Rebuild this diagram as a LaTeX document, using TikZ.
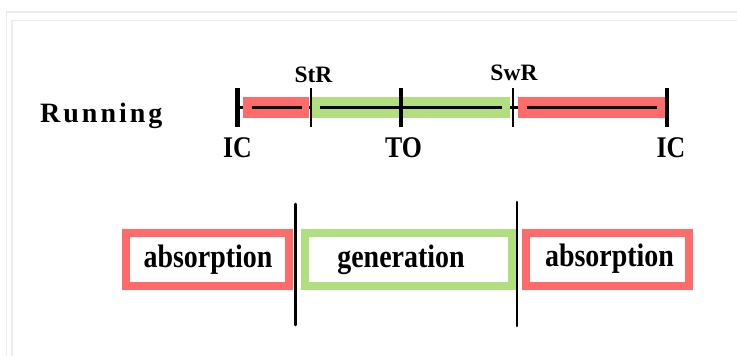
\documentclass[tikz,border=0pt]{standalone}
\usepackage{fontspec}
\setmainfont{Liberation Serif}
\newfontfamily\tallserif{Liberation Serif}[FakeStretch=0.86]
\definecolor{absred}{HTML}{FF6B6B}
\definecolor{gengreen}{HTML}{B1DE7E}
\definecolor{framegray}{HTML}{ECECEC}
\begin{document}
\begin{tikzpicture}[x=1pt,y=-1pt,
  frameline/.style={draw=framegray,line width=1.3pt},
  bar/.style={fill=#1,inner sep=0pt,minimum height=21pt},
  axis/.style={line width=3pt},
  majortick/.style={line width=4.2pt},
  minortick/.style={line width=2.3pt},
  marklabel/.style={font=\tallserif\bfseries\fontsize{30}{32}\selectfont,anchor=base,inner sep=0pt},
  phaselabel/.style={font=\bfseries\fontsize{23.5}{26}\selectfont,anchor=base,inner sep=0pt},
  phasebox/.style={draw=#1,line width=8pt,inner sep=0pt,minimum height=53pt},
  boxtext/.style={font=\tallserif\bfseries\fontsize{32.5}{34}\selectfont,anchor=base,inner sep=0pt},
  divider/.style={line width=2.6pt,line cap=round}]
\useasboundingbox (0,0) rectangle (737,356);

% page frame
\draw[frameline] (6.5,356) -- (6.5,12) -- (737,12);
\draw[frameline] (12,356) -- (12,20.5) -- (737,20.5);

% row title
\node[font=\bfseries\fontsize{28}{30}\selectfont,anchor=base west,inner sep=0pt]
  (running) at (40,122) {R\kern3pt u\kern3pt n\kern3pt n\kern3pt i\kern3pt n\kern3pt g};

% time axis
\coordinate (axisL) at (237.5,107.7);
\coordinate (axisR) at (667,107.7);
\draw[axis] (axisL) -- (axisR);

% coloured phases on the axis
\node[bar=absred,minimum width=66pt] (barA) at (276,107.5) {};
\node[bar=gengreen,minimum width=198pt] (barG) at (411,107.5) {};
\node[bar=absred,minimum width=148pt] (barB) at (592,107.5) {};

% axis segments visible inside the bars
\coordinate (a1) at (252,107.7); \coordinate (a2) at (302,107.7);
\coordinate (g1) at (320,107.7); \coordinate (g2) at (502,107.7);
\coordinate (b1) at (527,107.7); \coordinate (b2) at (657,107.7);
\draw[axis] (a1) -- (a2);
\draw[axis] (g1) -- (g2);
\draw[axis] (b1) -- (b2);

% ticks
\coordinate (icLt) at (237.5,88); \coordinate (icLb) at (237.5,127);
\coordinate (strt) at (310.7,88); \coordinate (strb) at (310.7,127);
\coordinate (tot)  at (400.7,88); \coordinate (tob)  at (400.7,127);
\coordinate (swrt) at (513,88);   \coordinate (swrb) at (513,126.5);
\coordinate (icRt) at (667,88);   \coordinate (icRb) at (667,126.5);
\draw[majortick] (icLt) -- (icLb);
\draw[minortick] (strt) -- (strb);
\draw[majortick] (tot) -- (tob);
\draw[minortick] (swrt) -- (swrb);
\draw[majortick] (icRt) -- (icRb);

% tick labels
\node[marklabel] (icL) at (237.5,157) {IC};
\node[marklabel] (to)  at (403.5,157) {TO};
\node[marklabel] (icR) at (671,157) {IC};
\node[phaselabel] (str) at (313.5,82.7) {StR};
\node[phaselabel] (swr) at (514,80.5) {SwR};

% phase boxes
\node[phasebox=absred,minimum width=163pt] (absA) at (207.5,259.5) {};
\node[phasebox=gengreen,minimum width=207pt] (gen) at (408.5,259.5) {};
\node[phasebox=absred,minimum width=163pt] (absB) at (607.5,259.5) {};
\node[boxtext] (absAtext) at (208,267) {absorption};
\node[boxtext] (gentext) at (401,267) {generation};
\node[boxtext] (absBtext) at (609.5,266) {absorption};

% dividers between phases
\coordinate (d1t) at (295.7,204); \coordinate (d1b) at (295.7,325);
\coordinate (d2t) at (517,202);   \coordinate (d2b) at (517,326);
\draw[divider] (d1t) -- (d1b);
\draw[divider] (d2t) -- (d2b);
\end{tikzpicture}
\end{document}
